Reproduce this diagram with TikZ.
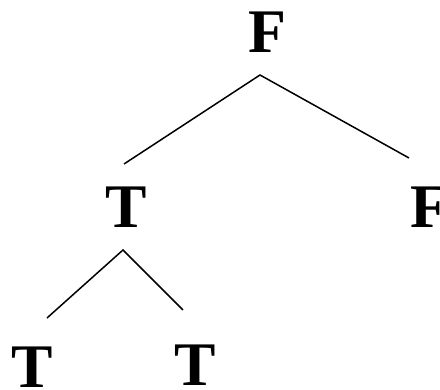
\documentclass[tikz,border=0pt]{standalone}
\usepackage{fontspec}
\setmainfont{Liberation Serif}
\begin{document}
\begin{tikzpicture}[x=1pt,y=1pt,
  lbl/.style={font=\fontsize{62}{62}\selectfont\bfseries, inner sep=0pt, anchor=base},
  edge/.style={line width=1.5pt}]
\useasboundingbox (0,0) rectangle (440,390);
\node[lbl] (root) at (267,337) {F};
\node[lbl] (t1) at (126,162) {T};
\node[lbl] (f1) at (429,162) {F};
\node[lbl] (t2) at (32.5,2) {T};
\node[lbl] (t3) at (195,4) {T};
\coordinate (r0) at (260,315);
\coordinate (r1) at (124,226);
\coordinate (r2) at (409,232);
\coordinate (m0) at (123,140);
\coordinate (m1) at (47,72);
\coordinate (m2) at (183,80);
\draw[edge] (r1) -- (r0) -- (r2);
\draw[edge] (m1) -- (m0) -- (m2);
\end{tikzpicture}
\end{document}
